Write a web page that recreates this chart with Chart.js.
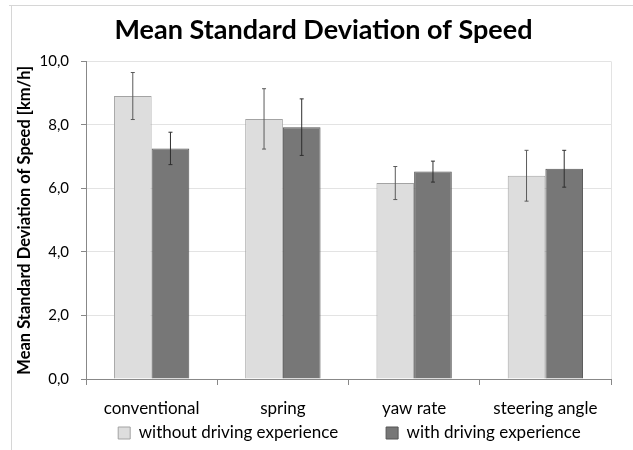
<!DOCTYPE html>
<html>
<head>
  <meta charset="UTF-8" />
  <title>Mean Standard Deviation of Speed</title>
  <script src="https://cdn.jsdelivr.net/npm/chart.js"></script>
  <style>
    html, body { margin: 0; padding: 0; background: #fff; }
    .chart-container { width: 633px; height: 450px; }
  </style>
</head>
<body>
  <div class="chart-container"><canvas id="speedChart"></canvas></div>

  <script>
    const categories = ['conventional', 'spring', 'yaw rate', 'steering angle'];
    const withoutExp = [8.91, 8.19, 6.17, 6.40];
    const withExp = [7.26, 7.93, 6.53, 6.62];
    const withoutErr = [0.74, 0.95, 0.52, 0.80];
    const withErr = [0.51, 0.89, 0.33, 0.58];
    const yTicks = [0, 2, 4, 6, 8, 10];

    const errors = [withoutErr, withErr];
    const errColors = ['#5a5a5a', '#2e2e2e'];

    // error bars drawn through the y scale
    const errorBars = {
      id: 'errorBars',
      afterDatasetsDraw(chart) {
        const ctx = chart.ctx;
        const y = chart.scales.y;
        chart.data.datasets.forEach((ds, di) => {
          const meta = chart.getDatasetMeta(di);
          meta.data.forEach((bar, i) => {
            const v = ds.data[i], e = errors[di][i];
            const top = y.getPixelForValue(v + e);
            const bot = y.getPixelForValue(v - e);
            ctx.save();
            ctx.strokeStyle = errColors[di];
            ctx.lineWidth = 1;
            ctx.beginPath();
            ctx.moveTo(bar.x, top); ctx.lineTo(bar.x, bot);
            ctx.moveTo(bar.x - 2, top); ctx.lineTo(bar.x + 2, top);
            ctx.moveTo(bar.x - 2, bot); ctx.lineTo(bar.x + 2, bot);
            ctx.stroke();
            ctx.restore();
          });
        });
      }
    };

    // frame lines of the picture + nudge title / legend / x labels area
    const frame = {
      id: 'frame',
      afterLayout(chart) {
        chart.titleBlock.left += 12; chart.titleBlock.right += 12;
        const lg = chart.legend;
        lg.left += 38; lg.right += 38;
        lg.top = 433 - 48 - 8.5; lg.bottom = lg.top + lg.height;
        chart.scales.x.bottom = chart.height;
      },
      beforeDraw(chart) {
        const ctx = chart.ctx;
        ctx.save();
        ctx.strokeStyle = '#d6d6d6';
        ctx.lineWidth = 1;
        ctx.beginPath();
        ctx.moveTo(9, 5.5); ctx.lineTo(633, 5.5);
        ctx.moveTo(11.5, 5); ctx.lineTo(11.5, 450);
        ctx.stroke();
        ctx.restore();
      }
    };

    new Chart(document.getElementById('speedChart'), {
      type: 'bar',
      data: {
        labels: categories,
        datasets: [{
          label: 'without driving experience',
          data: withoutExp,
          backgroundColor: '#dddddd',
          borderColor: '#a3a3a3',
          borderWidth: 1,
          categoryPercentage: 0.574,
          barPercentage: 1
        }, {
          label: 'with driving experience',
          data: withExp,
          backgroundColor: '#777777',
          borderColor: '#555555',
          borderWidth: 1,
          categoryPercentage: 0.574,
          barPercentage: 1
        }]
      },
      options: {
        responsive: true,
        maintainAspectRatio: false,
        animation: false,
        layout: { padding: { left: 12, right: 22, top: 0, bottom: -4 } },
        plugins: {
          tooltip: { enabled: false },
          title: {
            display: true,
            text: 'Mean Standard Deviation of Speed',
            color: '#000',
            font: { family: 'Lato', size: 27, weight: 'bold' },
            padding: { top: 14, bottom: 15 }
          },
          legend: {
            position: 'bottom',
            labels: {
              color: '#000',
              font: { family: 'Lato', size: 17 },
              boxWidth: 12,
              boxHeight: 12,
              padding: 48
            }
          }
        },
        scales: {
          x: {
            afterFit: (s) => { s.height = 0; },
            grid: {
              offset: true,
              drawOnChartArea: true,
              color: (c) => c.type === 'tick' ? 'rgba(0,0,0,0)' : '#e3e3e3',
              tickColor: '#888',
              tickLength: 6
            },
            border: { color: '#888' },
            ticks: {
              color: '#000',
              font: { family: 'Lato', size: 17 },
              padding: 13,
              maxRotation: 0
            }
          },
          y: {
            min: 0,
            max: 10,
            afterFit: (s) => { s.width = 74; },
            afterBuildTicks: (s) => { s.ticks = yTicks.map(v => ({ value: v })); },
            grid: { color: '#e3e3e3', tickColor: '#888', tickLength: 5 },
            border: { color: '#888' },
            ticks: {
              color: '#000',
              font: { family: 'Lato', size: 15 },
              padding: 12,
              callback: (v) => v.toFixed(1).replace('.', ',')
            },
            title: {
              display: true,
              text: 'Mean Standard Deviation of Speed [km/h]',
              color: '#000',
              font: { family: 'Lato', size: 16.5, weight: 'bold' },
              padding: { top: 3, bottom: 0 }
            }
          }
        }
      },
      plugins: [errorBars, frame]
    });
  </script>
</body>
</html>
